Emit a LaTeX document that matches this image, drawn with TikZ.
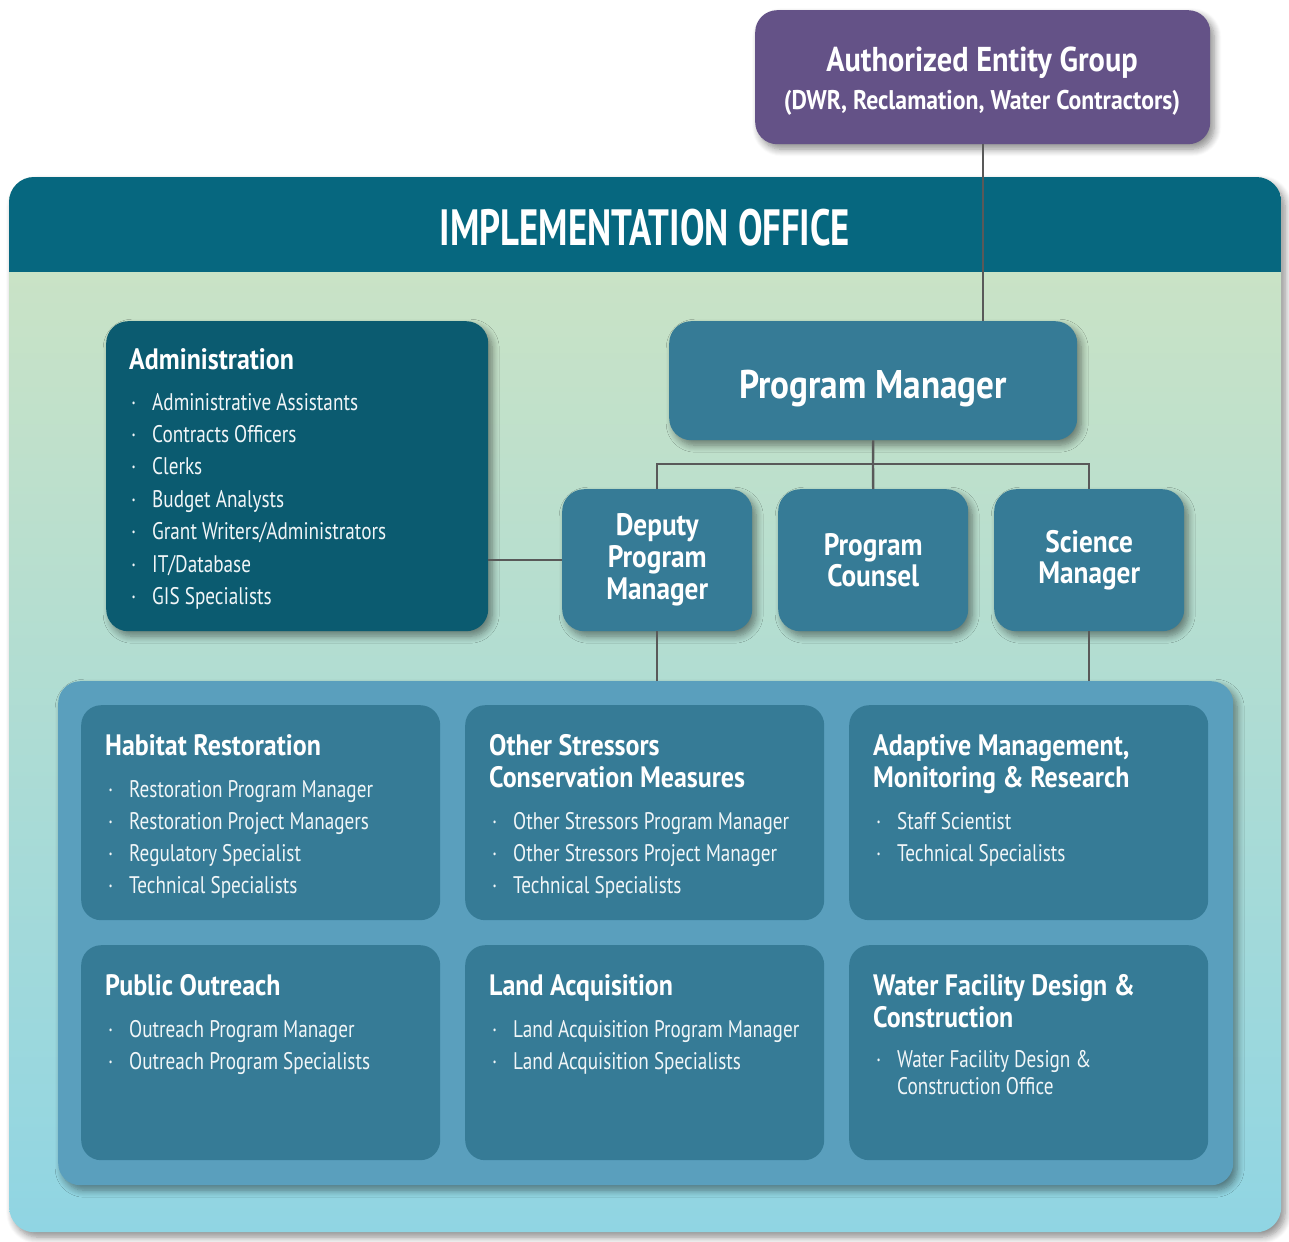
\documentclass[tikz,border=0pt]{standalone}
\usepackage{fontspec}
\setmainfont{PT Sans}[FakeStretch=0.8]
\newfontfamily\hdfont{PT Sans}[FakeStretch=0.88]
\newfontfamily\titlefont{PT Sans}[FakeStretch=0.72]
\usetikzlibrary{shadows.blur}

\definecolor{aegpurple}{HTML}{645287}
\definecolor{hdrteal}{HTML}{06677F}
\definecolor{admteal}{HTML}{0B5B70}
\definecolor{boxteal}{HTML}{367B96}
\definecolor{grpblue}{HTML}{5A9FBD}
\definecolor{bodytop}{HTML}{CFE4C3}
\definecolor{bodybot}{HTML}{90D5E3}
\definecolor{linegray}{HTML}{595959}

\newcommand\fs[2]{\fontsize{#1}{#2}\selectfont}
\newcommand\bul{\llap{\textperiodcentered\hspace{16pt}}}

\tikzset{
  softshadow/.style={blur shadow={shadow xshift=4pt, shadow yshift=-5pt,
      shadow blur radius=7pt, shadow blur steps=8, shadow opacity=45}},
  panel/.style={rounded corners=25pt, top color=bodytop, bottom color=bodybot,
      anchor=north west, inner sep=0pt, softshadow},
  rolebox/.style={rounded corners=22pt, fill=boxteal, anchor=north west,
      inner sep=0pt, text=white, align=center, softshadow},
  aegbox/.style={rolebox, fill=aegpurple},
  admbox/.style={rolebox, fill=admteal},
  grpbox/.style={rounded corners=22pt, fill=grpblue, anchor=north west,
      inner sep=0pt, softshadow},
  unitbox/.style={rounded corners=20pt, fill=boxteal, anchor=north west,
      inner sep=0pt, minimum width=359pt, minimum height=215pt},
  label/.style={anchor=base, inner sep=0pt, text=white},
  head/.style={anchor=base west, inner sep=0pt, text=white,
      font=\hdfont\bfseries\fs{29.5}{32}},
  item/.style={anchor=base west, inner sep=0pt, text=white!93!boxteal,
      font=\fs{24}{29}},
  conn/.style={draw=linegray, line width=2.4pt},
}

\begin{document}
\begin{tikzpicture}[x=1pt,y=-1pt]
\useasboundingbox (0,0) rectangle (1289,1241);

% outer office panel with its title band
\node[panel, minimum width=1272pt, minimum height=1055pt] (office) at (9,177) {};
\coordinate (hb) at (0,272);
\begin{scope}
  \clip[rounded corners=25pt] (office.north west) rectangle (office.south east);
  \fill[hdrteal] (office.north west) rectangle (office.east |- hb);
\end{scope}
\node[label, font=\titlefont\bfseries\fs{51}{55}] (title)
  at (645,245) {IMPLEMENTATION OFFICE};

% governing group
\node[aegbox, minimum width=455pt, minimum height=134pt] (aeg) at (755,10) {};
\node[label, font=\hdfont\bfseries\fs{34.5}{38}] (aeg-t1) at (982,72)
  {Authorized Entity Group};
\node[label, font=\hdfont\bfseries\fs{27}{30}] (aeg-t2) at (982,110)
  {(DWR, Reclamation, Water Contractors)};

% management boxes
\node[rolebox, minimum width=408pt, minimum height=119pt] (pm) at (669,321) {};
\node[label, font=\hdfont\bfseries\fs{40}{44}] (pm-t) at (873,398)
  {Program Manager};
\node[rolebox, minimum width=190pt, minimum height=142pt,
      font=\hdfont\bfseries\fs{31}{32}] (dpm) at (562,489) {Deputy\\Program\\Manager};
\node[rolebox, minimum width=190pt, minimum height=142pt,
      font=\hdfont\bfseries\fs{31}{31.5}] (cou) at (778,489) {Program\\Counsel};
\node[rolebox, minimum width=190pt, minimum height=142pt,
      font=\hdfont\bfseries\fs{31}{31.5}] (sci) at (994,489) {Science\\Manager};

% administration
\node[admbox, minimum width=382pt, minimum height=310pt] (adm) at (106,321) {};
\node[head] (adm-h) at (129,369) {Administration};
\foreach \t [count=\i from 0] in {Administrative Assistants, Contracts Officers,
    Clerks, Budget Analysts, Grant Writers/Administrators, IT/Database,
    GIS Specialists}
  \node[item] (adm-i\i) at (152,{410+32.4*\i}) {\bul\t};

% program groups
\node[grpbox, minimum width=1175pt, minimum height=504pt] (grp) at (58,681) {};
\node[unitbox] (hab) at (81,705) {};
\node[unitbox] (oth) at (465,705) {};
\node[unitbox] (amr) at (849,705) {};
\node[unitbox] (pub) at (81,945) {};
\node[unitbox] (lac) at (465,945) {};
\node[unitbox] (wfd) at (849,945) {};

\node[head] (hab-h) at (105,755) {Habitat Restoration};
\foreach \t [count=\i from 0] in {Restoration Program Manager,
    Restoration Project Managers, Regulatory Specialist, Technical Specialists}
  \node[item] (hab-i\i) at (129,{797+32.3*\i}) {\bul\t};

\node[head] (oth-h1) at (489,755) {Other Stressors};
\node[head] (oth-h2) at (489,787) {Conservation Measures};
\foreach \t [count=\i from 0] in {Other Stressors Program Manager,
    Other Stressors Project Manager, Technical Specialists}
  \node[item] (oth-i\i) at (513,{829+32.3*\i}) {\bul\t};

\node[head] (amr-h1) at (873,755) {Adaptive Management,};
\node[head] (amr-h2) at (873,787) {Monitoring \& Research};
\foreach \t [count=\i from 0] in {Staff Scientist, Technical Specialists}
  \node[item] (amr-i\i) at (897,{829+32.3*\i}) {\bul\t};

\node[head] (pub-h) at (105,995) {Public Outreach};
\foreach \t [count=\i from 0] in {Outreach Program Manager,
    Outreach Program Specialists}
  \node[item] (pub-i\i) at (129,{1037+32.3*\i}) {\bul\t};

\node[head] (lac-h) at (489,995) {Land Acquisition};
\foreach \t [count=\i from 0] in {Land Acquisition Program Manager,
    Land Acquisition Specialists}
  \node[item] (lac-i\i) at (513,{1037+32.3*\i}) {\bul\t};

\node[head] (wfd-h1) at (873,995) {Water Facility Design \&};
\node[head] (wfd-h2) at (873,1027) {Construction};
\node[item] (wfd-i0) at (897,1067) {\bul Water Facility Design \&};
\node[item] (wfd-i1) at (897,1094) {Construction Office};

% reporting lines
\coordinate (bus) at (873,464);
\draw[conn] (aeg.south) -- (aeg.south |- pm.north);
\draw[conn] (pm.south) -- (bus);
\draw[conn] (dpm.north) |- (bus) -| (sci.north);
\draw[conn] (bus) -- (cou.north);
\draw[conn] (adm.east |- dpm.west) -- (dpm.west);
\draw[conn] (dpm.south) -- (dpm.south |- grp.north);
\draw[conn] (sci.south) -- (sci.south |- grp.north);
\end{tikzpicture}
\end{document}
